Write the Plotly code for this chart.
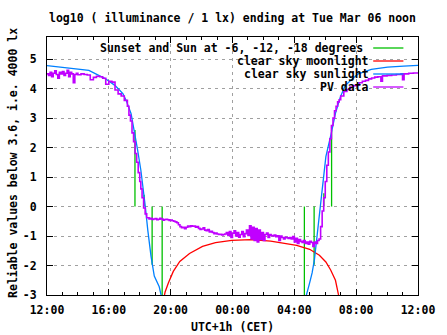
import plotly.graph_objects as go
import pandas as pd

# ---------------- data (hours since Mon 2018-03-05 00:00, CET) ----------------
sun_event_hours = [17.69, 18.28, 18.80, 19.45, 28.65, 29.28, 29.91, 30.41]
sun_event_levels = [2.6, 0.4, -1.97, -3.0, -3.0, -1.97, 0.45, 2.6]

moon_hours = [19.58, 19.64, 19.85, 20.17, 20.59, 21.22, 22.06, 22.90, 23.95,
              25.21, 26.47, 27.31, 28.15, 28.99, 29.62, 30.04, 30.35, 30.66, 30.88]
moon_values = [-3.05, -2.9, -2.59, -2.2, -1.86, -1.59, -1.35, -1.22, -1.15,
               -1.12, -1.17, -1.24, -1.32, -1.45, -1.65, -1.88, -2.15, -2.5, -3.05]

sun_hours = [12.0, 13.45, 14.71, 15.76, 16.39, 16.91, 17.12, 17.44, 17.65, 17.86,
             18.07, 18.24, 18.36, 18.52, 18.73, 18.94, 19.26, 19.38, 19.42,
             28.75, 28.78, 28.99, 29.15, 29.30, 29.40, 29.51, 29.62, 29.72, 29.83,
             29.94, 30.04, 30.41, 30.66, 30.98, 31.29, 31.72, 32.14, 32.98, 34.03,
             35.07, 36.0]
sun_values = [4.78, 4.70, 4.62, 4.34, 4.11, 3.83, 3.60, 3.15, 2.59, 1.92,
              1.24, 0.60, 0.0, -0.8, -1.69, -2.36, -2.72, -3.0, -3.5,
              -3.5, -3.0, -2.59, -2.25, -1.80, -1.35, -0.90, -0.34, 0.11, 0.56,
              1.13, 1.69, 2.53, 3.16, 3.72, 4.10, 4.32, 4.50, 4.65, 4.73,
              4.76, 4.79]

pv_hours = [12.0, 12.1, 12.2, 12.3, 12.4, 12.5, 12.6, 12.7, 12.8, 12.9,
            13.0, 13.1, 13.2, 13.3, 13.4, 13.5, 13.6, 13.7, 13.8, 13.9,
            14.0, 14.2, 14.4, 14.6, 14.8, 15.0, 15.2, 15.4, 15.6, 15.8,
            16.0, 16.2, 16.4, 16.6, 16.8, 17.0, 17.2, 17.3, 17.4, 17.5,
            17.6, 17.7, 17.8, 17.9, 18.0, 18.07, 18.15, 18.25, 18.35, 18.45,
            18.5, 18.6, 18.7, 18.8, 18.9, 19.0, 19.1, 19.2, 19.3, 19.4,
            19.5, 19.6, 19.7, 19.8, 19.9, 20.0, 20.1, 20.2, 20.3, 20.4,
            20.5, 20.6, 20.7, 20.8, 20.9, 21.0, 21.1, 21.2, 21.3, 21.4,
            21.5, 21.6, 21.7, 21.8, 21.9, 22.0, 22.1, 22.2, 22.3, 22.4,
            22.5, 22.6, 22.7, 22.8, 22.9, 23.0, 23.1, 23.2, 23.3, 23.4,
            23.5, 23.6, 23.7, 23.8, 23.9, 24.0, 24.1, 24.2, 24.3, 24.4,
            24.5, 24.6, 24.7, 24.8, 24.9, 25.0, 25.1, 25.2, 25.3, 25.4,
            25.5, 25.6, 25.7, 25.8, 25.9, 26.0, 26.1, 26.2, 26.3, 26.4,
            26.5, 26.6, 26.7, 26.8, 26.9, 27.0, 27.1, 27.2, 27.3, 27.4,
            27.5, 27.6, 27.7, 27.8, 27.9, 28.0, 28.1, 28.2, 28.3, 28.4,
            28.5, 28.6, 28.7, 28.8, 28.9, 29.0, 29.1, 29.2, 29.3, 29.4,
            29.5, 29.6, 29.7, 29.8, 29.9, 30.0, 30.1, 30.2, 30.3, 30.4,
            30.5, 30.6, 30.7, 30.8, 30.9, 31.0, 31.2, 31.4, 31.6, 31.8,
            32.0, 32.2, 32.4, 32.6, 32.8, 33.0, 33.2, 33.4, 33.6, 33.7,
            34.0, 34.3, 34.6, 34.9, 35.0, 35.1, 35.4, 35.7, 36.0]
pv_values = [4.50, 4.45, 4.55, 4.40, 4.52, 4.60, 4.48, 4.35, 4.55, 4.50,
             4.58, 4.45, 4.52, 4.62, 4.40, 4.55, 4.50, 4.20, 4.48, 4.52,
             4.47, 4.50, 4.48, 4.46, 4.30, 4.38, 4.42, 4.40, 4.35, 4.15,
             4.25, 4.22, 3.95, 3.82, 3.75, 3.60, 3.40, 3.10, 2.90, 2.50,
             2.20, 1.80, 1.50, 1.15, 0.85, 0.60, 0.30, -0.05, -0.25, -0.38,
             -0.38, -0.42, -0.40, -0.44, -0.42, -0.41, -0.45, -0.43, -0.40, -0.42,
             -0.46, -0.44, -0.43, -0.45, -0.47, -0.46, -0.48, -0.50, -0.52, -0.55,
             -0.62, -0.68, -0.72, -0.70, -0.75, -0.70, -0.66, -0.68, -0.65, -0.67,
             -0.66, -0.70, -0.68, -0.74, -0.78, -0.76, -0.72, -0.80, -0.82, -0.78,
             -0.86, -0.84, -0.88, -0.92, -0.90, -0.93, -0.95, -0.94, -0.96, -0.95,
             -0.93, -0.88, -0.98, -0.85, -1.05, -0.90, -0.82, -1.00, -0.88, -1.04,
             -0.95, -0.85, -1.02, -0.92, -0.80, -0.98, -0.65, -1.10, -0.70, -1.15,
             -0.75, -1.20, -0.80, -1.12, -0.88, -1.15, -0.95, -0.90, -1.05, -0.95,
             -0.98, -1.00, -0.97, -1.02, -0.99, -1.15, -1.00, -1.05, -1.10, -1.04,
             -1.06, -1.08, -1.05, -1.10, -1.02, -1.20, -1.08, -1.25, -1.12, -1.18,
             -1.22, -1.15, -1.25, -1.20, -1.28, -1.18, -1.22, -1.35, -1.20, -1.25,
             -1.15, -1.10, -0.68, -0.15, 0.30, 0.85, 1.40, 1.85, 2.30, 2.75,
             3.00, 3.25, 3.40, 3.55, 3.62, 3.75, 3.90, 3.97, 4.05, 4.10,
             4.12, 4.20, 4.25, 4.28, 4.33, 4.36, 4.39, 4.40, 4.25, 4.43,
             4.45, 4.46, 4.48, 4.50, 4.30, 4.50, 4.52, 4.53, 4.55]

y_tickvals = [-3, -2, -1, 0, 1, 2, 3, 4, 5]
y_ticktext = ["-3", "-2", "-1", "0", "1", "2", "3", "4", "5"]

legend_labels = ["Sunset and Sun at -6, -12, -18 degrees", "clear sky moonlight",
                 "clear sky sunlight", "PV data"]
colors = ["#00c000", "#ff0000", "#0080ff", "#c000ff"]

title_text = "log10 ( illuminance / 1 lx) ending at Tue Mar 06 noon"
x_title = "UTC+1h (CET)"
y_title = "Reliable values below 3.6, i.e. 4000 lx"

# ---------------- helpers ----------------
BASE = pd.Timestamp("2018-03-05 00:00")


def to_time(hours):
    return [None if h is None else BASE + pd.Timedelta(hours=h) for h in hours]


imp_x, imp_y = [], []
for h, v in zip(sun_event_hours, sun_event_levels):
    imp_x += [h, h, None]
    imp_y += [0, v, None]

FONT = "DejaVu Sans Mono"
fnt = dict(family=FONT, size=11.5, color="black", weight="bold")

fig = go.Figure()
fig.add_trace(go.Scatter(x=to_time(imp_x), y=imp_y, mode="lines",
                         line=dict(color=colors[0], width=1.3), connectgaps=False))
fig.add_trace(go.Scatter(x=to_time(moon_hours), y=moon_values, mode="lines",
                         line=dict(color=colors[1], width=1.3)))
fig.add_trace(go.Scatter(x=to_time(sun_hours), y=sun_values, mode="lines",
                         line=dict(color=colors[2], width=1.3)))
fig.add_trace(go.Scatter(x=to_time(pv_hours), y=pv_values, mode="lines",
                         line=dict(color=colors[3], width=1.6, shape="hv")))

W, H = 447, 335
ml, mr, mt, mb = 47, 19, 37, 40
pw, ph = W - ml - mr, H - mt - mb


def px_to_paper_x(px):
    return (px - ml) / pw


def px_to_paper_y(py):
    return (H - mb - py) / ph


annotations = []
shapes = []
# mask for the grid behind the key (gnuplot does not draw grid under the key)
shapes.append(dict(type="rect", xref="paper", yref="paper",
                   x0=px_to_paper_x(99), x1=1, y0=px_to_paper_y(92), y1=1,
                   fillcolor="white", line=dict(width=0), layer="between"))
rows = [48, 61, 74, 87]
text_right = [374, 380, 380, 380]
for lab, col, ry, tx in zip(legend_labels, colors, rows, text_right):
    annotations.append(dict(text=lab, xref="paper", yref="paper",
                            x=px_to_paper_x(tx), y=px_to_paper_y(ry),
                            xanchor="right", yanchor="middle", showarrow=False,
                            font=fnt))
    shapes.append(dict(type="line", xref="paper", yref="paper",
                       x0=px_to_paper_x(382), x1=px_to_paper_x(413),
                       y0=px_to_paper_y(ry), y1=px_to_paper_y(ry),
                       line=dict(color=col, width=1.3)))

annotations.append(dict(text=x_title, xref="paper", yref="paper",
                        x=0.5, y=px_to_paper_y(327), xanchor="center",
                        yanchor="middle", showarrow=False, font=fnt))
annotations.append(dict(text=y_title, xref="paper", yref="paper",
                        x=px_to_paper_x(12), y=px_to_paper_y(163),
                        xanchor="center", yanchor="middle", textangle=-90,
                        showarrow=False, font=fnt))
annotations.append(dict(text=title_text, xref="paper", yref="paper",
                        x=0.5, y=px_to_paper_y(18), xanchor="center",
                        yanchor="middle", showarrow=False, font=fnt))

fig.update_layout(
    width=W, height=H,
    margin=dict(l=ml, r=mr, t=mt, b=mb, pad=0),
    paper_bgcolor="white", plot_bgcolor="white",
    showlegend=False,
    font=fnt,
    annotations=annotations,
    shapes=shapes,
)
fig.update_xaxes(
    type="date",
    range=[BASE + pd.Timedelta(hours=12), BASE + pd.Timedelta(hours=36)],
    tick0=BASE + pd.Timedelta(hours=12), dtick=4 * 3600 * 1000,
    tickformat="%H:%M",
    showline=True, linecolor="black", linewidth=1, mirror="allticks",
    ticks="inside", ticklen=6, tickcolor="black",
    showgrid=True, gridcolor="#a0a0a0", gridwidth=1, griddash="3px,4px",
    minor=dict(dtick=3600 * 1000, ticks="inside", ticklen=3, tickcolor="black",
               showgrid=False),
    zeroline=False, tickfont=fnt, ticklabelstandoff=4,
)
fig.update_yaxes(
    range=[-3, 5.75],
    tickvals=y_tickvals, ticktext=y_ticktext,
    showline=True, linecolor="black", linewidth=1, mirror="allticks",
    ticks="inside", ticklen=6, tickcolor="black",
    showgrid=True, gridcolor="#a0a0a0", gridwidth=1, griddash="3px,4px",
    zeroline=False, tickfont=fnt, ticklabelstandoff=7,
)

fig.write_html("out.html")
